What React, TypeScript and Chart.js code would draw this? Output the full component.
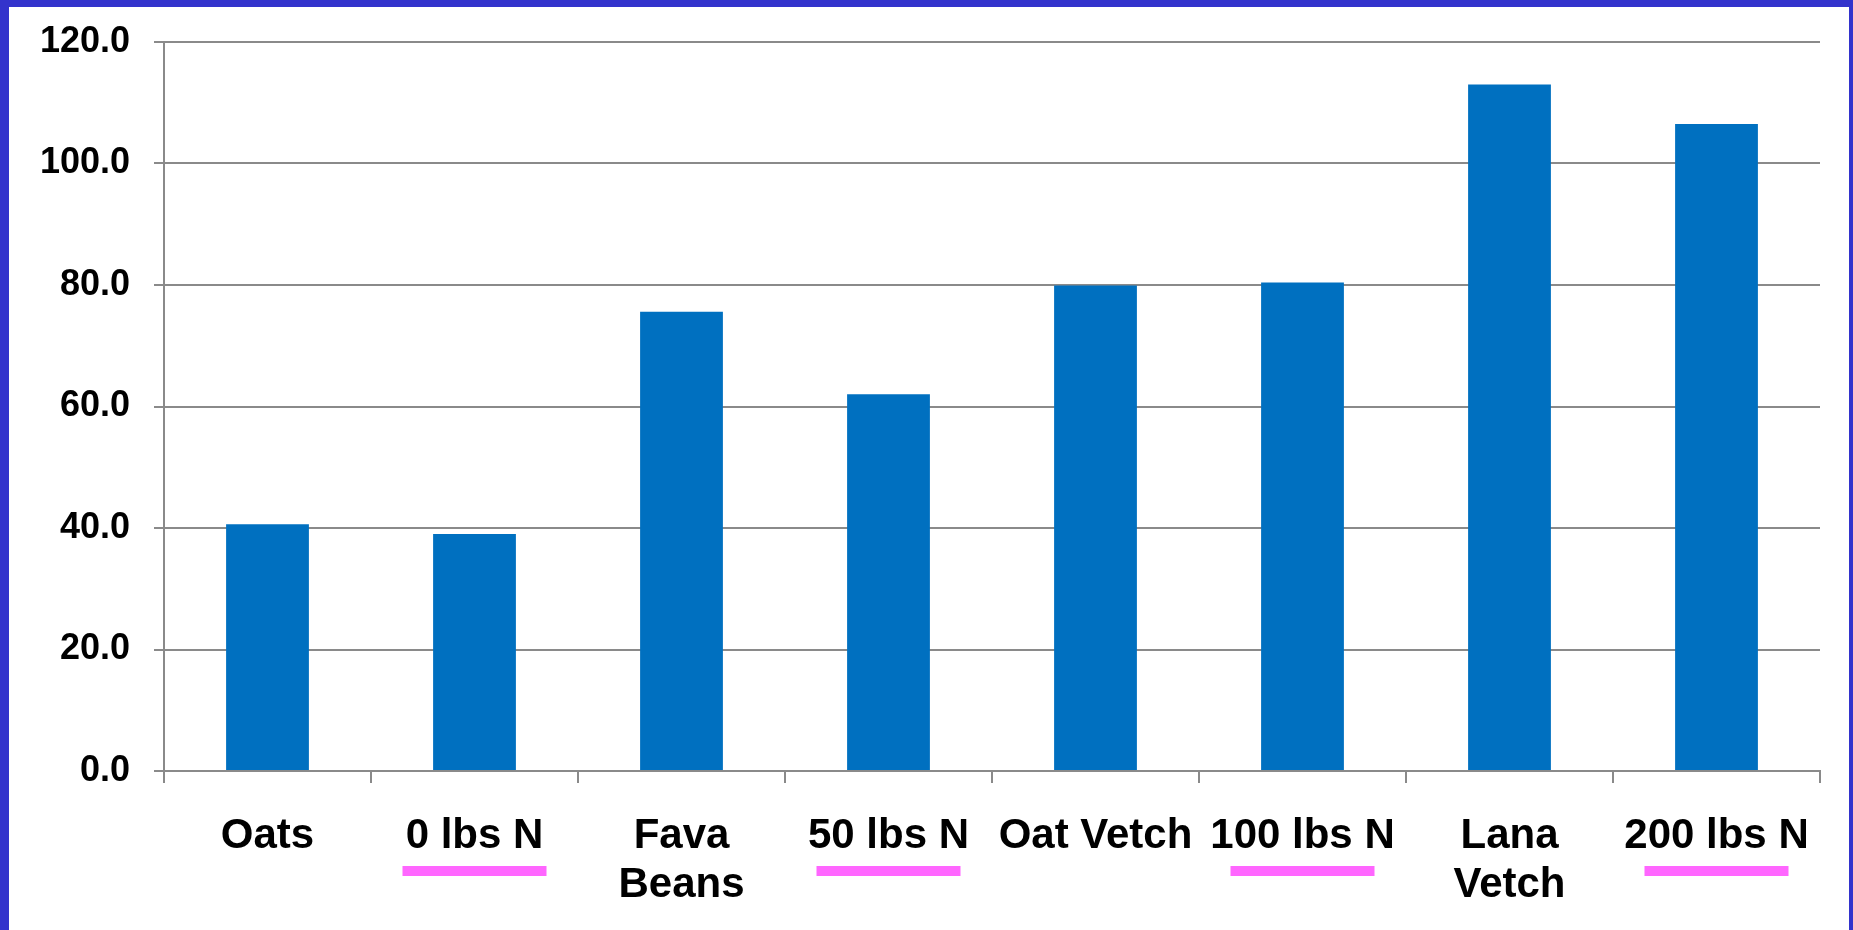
import React, { useEffect, useRef } from "react";
import { Chart, registerables } from "chart.js";

Chart.register(...registerables);

const categories: (string | string[])[] = [
  "Oats",
  "0 lbs N",
  ["Fava", "Beans"],
  "50 lbs N",
  "Oat Vetch",
  "100 lbs N",
  ["Lana", "Vetch"],
  "200 lbs N",
];
const values: number[] = [40.6, 39.0, 75.6, 62.0, 79.9, 80.4, 113.0, 106.5];
const underlined: string[] = ["0 lbs N", "50 lbs N", "100 lbs N", "200 lbs N"];
const yTicks: number[] = [0, 20, 40, 60, 80, 100, 120];

const underlinePlugin = {
  id: "underlines",
  afterDraw(chart: any) {
    const { ctx, scales, chartArea } = chart;
    const x = scales.x;
    ctx.save();
    ctx.fillStyle = "#FF66FF";
    categories.forEach((c, i) => {
      const name = Array.isArray(c) ? c.join(" ") : c;
      if (!underlined.includes(name)) return;
      const cx = x.getPixelForValue(i);
      ctx.fillRect(cx - 72, chartArea.bottom + 95, 144, 10);
    });
    ctx.restore();
  },
};

export default function App() {
  const ref = useRef<HTMLCanvasElement | null>(null);
  useEffect(() => {
    if (!ref.current) return;
    const grey = "#8a8a8a";
    const chart = new Chart(ref.current, {
      type: "bar",
      data: {
        labels: categories,
        datasets: [
          {
            data: values,
            backgroundColor: "#0070C0",
            barPercentage: 0.4,
            categoryPercentage: 1,
          },
        ],
      },
      options: {
        animation: false,
        responsive: true,
        maintainAspectRatio: false,
        layout: { padding: { top: 35, right: 29, bottom: 0, left: 0 } },
        plugins: { legend: { display: false }, tooltip: { enabled: false } },
        scales: {
          x: {
            offset: true,
            grid: {
              offset: true,
              drawOnChartArea: false,
              drawTicks: true,
              tickLength: 12,
              color: grey,
              lineWidth: 2,
            },
            border: { display: true, color: grey, width: 2 },
            ticks: {
              color: "#000",
              padding: 29,
              maxRotation: 0,
              autoSkip: false,
              font: { family: "'Liberation Sans', Arial, sans-serif", size: 42, weight: "bold", lineHeight: 1.167 },
            },
            afterFit: (s: any) => {
              s.height = 159;
            },
          },
          y: {
            min: 0,
            max: 120,
            afterBuildTicks: (s: any) => {
              s.ticks = yTicks.map((v) => ({ value: v }));
            },
            grid: { color: grey, lineWidth: 2, tickLength: 10, drawTicks: true },
            border: { display: true, color: grey, width: 2 },
            ticks: {
              color: "#000",
              padding: 24,
              callback: (v: any) => Number(v).toFixed(1),
              font: { family: "'Liberation Sans', Arial, sans-serif", size: 36, weight: "bold" },
            },
            afterFit: (s: any) => {
              s.width = 155;
              s.paddingTop = 0;
              s.paddingBottom = 0;
            },
          },
        },
      },
      plugins: [underlinePlugin],
    });
    return () => chart.destroy();
  }, []);

  return (
    <div
      style={{
        position: "fixed",
        left: 0,
        top: 0,
        width: 1853,
        height: 930,
        boxSizing: "border-box",
        borderStyle: "solid",
        borderColor: "#3333CC",
        borderWidth: "7px 4px 0 9px",
        background: "#fff",
      }}
    >
      <div style={{ position: "relative", width: 1840, height: 923 }}>
        <canvas ref={ref} />
      </div>
    </div>
  );
}
